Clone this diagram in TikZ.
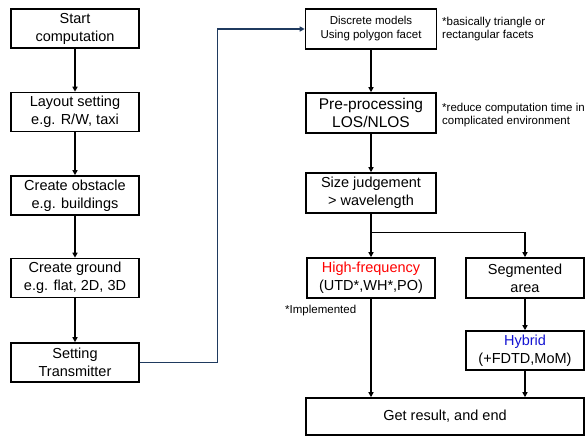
\documentclass[tikz,border=0pt]{standalone}
\usepackage{fontspec}
\setmainfont{Liberation Sans}
\usepackage{xcolor}
\usetikzlibrary{arrows.meta}
\definecolor{navy}{HTML}{1F3A5F}
\definecolor{hfred}{HTML}{FF0000}
\definecolor{hybblue}{HTML}{1414D2}

\begin{document}
\begin{tikzpicture}[x=1pt, y=-1pt,
  box/.style={draw, line width=1.6pt, align=center, inner sep=0pt, font=\fontsize{14.5}{18}\selectfont},
  flow/.style={line width=1.3pt, -{Triangle[length=5pt,width=5pt]}},
  note/.style={align=left, inner sep=0pt, font=\fontsize{11.5}{13.5}\selectfont}]
\useasboundingbox (0,0) rectangle (586,437);
% left column
\node[box, minimum width=128pt, minimum height=39pt] (start) at (75,28.5) {Start\\computation};
\node[box, minimum width=128pt, minimum height=39pt] (layout) at (75,112) {Layout setting\\e.g. R/W, taxi};
\node[box, minimum width=128pt, minimum height=39pt] (obst) at (75,195.5) {Create obstacle\\e.g. buildings};
\node[box, minimum width=128pt, minimum height=39pt] (ground) at (75,278) {Create ground\\e.g. flat, 2D, 3D};
\node[box, minimum width=128pt, minimum height=39pt] (tx) at (75,362.5) {Setting\\Transmitter};
\draw[flow] (start) -- (layout);
\draw[flow] (layout) -- (obst);
\draw[flow] (obst) -- (ground);
\draw[flow] (ground) -- (tx);
% right column
\node[box, minimum width=131pt, minimum height=40pt, font=\fontsize{11.5}{14}\selectfont] (disc) at (371,29) {Discrete models\\Using polygon facet};
\node[box, minimum width=130pt, minimum height=40pt, font=\fontsize{15.5}{18.5}\selectfont] (pre) at (371,113) {Pre-processing\\LOS/NLOS};
\node[box, minimum width=130pt, minimum height=40pt] (size) at (371,193) {Size judgement\\> wavelength};
\node[box, minimum width=128pt, minimum height=40pt] (hf) at (371,278) {\textcolor{hfred}{High-frequency}\\(UTD*,WH*,PO)};
\node[box, minimum width=118pt, minimum height=40pt] (seg) at (525,278) {Segmented\\area};
\node[box, minimum width=118pt, minimum height=39pt] (hyb) at (525,350.5) {\textcolor{hybblue}{Hybrid}\\(+FDTD,MoM)};
\node[box, minimum width=278pt, minimum height=37pt] (res) at (445,416.5) {Get result, and end};
\draw[flow, navy, line width=1.2pt] (tx.east) -- ++(78,0) |- (disc.west);
\draw[flow] (disc) -- (pre);
\draw[flow] (pre) -- (size);
\draw[line width=1.3pt] (size.south) -- ++(0,19) coordinate (br);
\draw[flow] (br) -- (hf.north);
\draw[flow] (br) -| (seg.north);
\draw[flow] (seg) -- (hyb);
\draw[flow] (hf.south) -- (hf.south |- res.north);
\draw[flow] (hyb.south) -- (hyb.south |- res.north);
% notes
\node[note, anchor=west] (n1) at (442,29) {*basically triangle or\\rectangular facets};
\node[note, anchor=west] (n2) at (442,115) {*reduce computation time in\\complicated environment};
\node[note, anchor=base west] (n3) at (285,313) {*Implemented};
\end{tikzpicture}
\end{document}
